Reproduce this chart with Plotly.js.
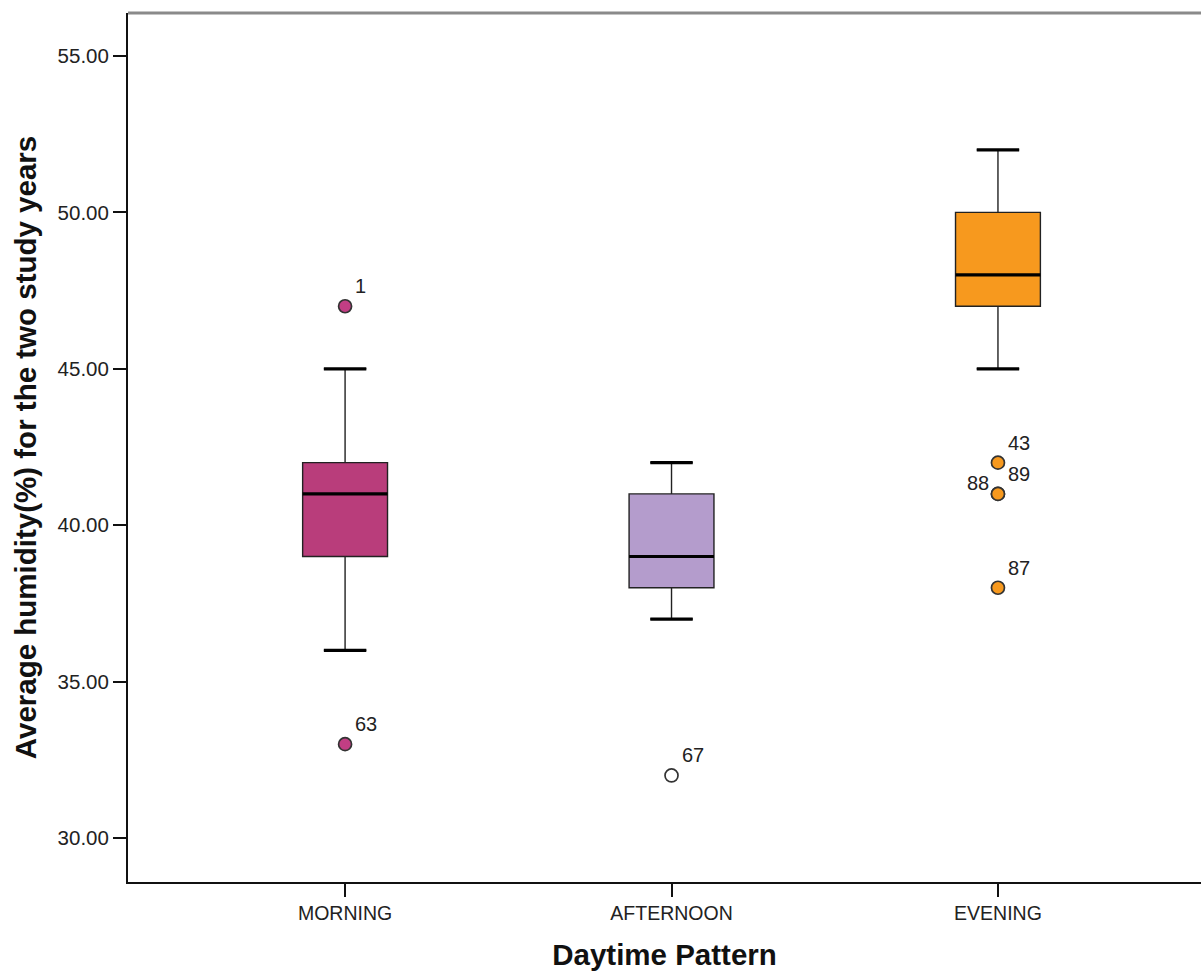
<!DOCTYPE html>
<html>
<head>
<meta charset="utf-8">
<script src="https://cdn.plot.ly/plotly-3.0.1.min.js"></script>
<style>html,body{margin:0;padding:0;background:#fff;}#chart{width:1201px;height:971px;}</style>
</head>
<body>
<div id="chart"></div>
<script>
// ---- data ----
const categories = ["MORNING", "AFTERNOON", "EVENING"];
const lowerWhisker = [36, 37, 45];
const q1Values = [39, 38, 47];
const medianValues = [41, 39, 48];
const q3Values = [42, 41, 50];
const upperWhisker = [45, 42, 52];
const boxColors = ["#b93d7b", "#b49ccc", "#f7991e"];
const outlierColors = ["#c23e84", "#ffffff", "#f7991e"];

// outliers: category index, value, case label
const outlierCat = [0, 0, 1, 2, 2, 2, 2];
const outlierVal = [47, 33, 32, 42, 41, 41, 38];
const outlierLabel = ["1", "63", "67", "43", "89", "88", "87"];
const outlierLabelSide = ["right", "right", "right", "right", "right", "left", "right"];

const boxWidth = 0.26;
const capWidth = 0.13;

const traces = [];
categories.forEach((c, i) => {
  traces.push({
    type: "box",
    x: [i],
    q1: [q1Values[i]],
    median: [medianValues[i]],
    q3: [q3Values[i]],
    lowerfence: [lowerWhisker[i]],
    upperfence: [upperWhisker[i]],
    width: boxWidth,
    whiskerwidth: 0.5,
    boxpoints: false,
    fillcolor: boxColors[i],
    line: { color: "#222", width: 1.4 },
    hoverinfo: "skip",
    showlegend: false
  });
  // median line
  traces.push({
    type: "scatter", mode: "lines",
    x: [i - boxWidth / 2, i + boxWidth / 2],
    y: [medianValues[i], medianValues[i]],
    line: { color: "#000", width: 3.2 },
    hoverinfo: "skip", showlegend: false
  });
  // whisker caps
  [lowerWhisker[i], upperWhisker[i]].forEach(v => {
    traces.push({
      type: "scatter", mode: "lines",
      x: [i - capWidth / 2, i + capWidth / 2],
      y: [v, v],
      line: { color: "#000", width: 3.2 },
      hoverinfo: "skip", showlegend: false
    });
  });
});

traces.push({
  type: "scatter", mode: "markers",
  x: outlierCat,
  y: outlierVal,
  marker: {
    size: 13,
    color: outlierCat.map(i => outlierColors[i]),
    line: { color: "#333", width: 1.7 }
  },
  hoverinfo: "skip", showlegend: false
});

const annotations = outlierLabel.map((t, k) => {
  const left = outlierLabelSide[k] === "left";
  return {
    x: outlierCat[k], y: outlierVal[k], xref: "x", yref: "y",
    text: t, showarrow: false,
    xanchor: left ? "right" : "left",
    yanchor: "middle",
    xshift: left ? -7 : 8,
    yshift: left ? 11 : 20,
    font: { family: "Liberation Sans, Arial, sans-serif", size: 20, color: "#222" }
  };
});

const layout = {
  width: 1201, height: 971,
  margin: { l: 128, r: 0, t: 13, b: 89 },
  paper_bgcolor: "#fff", plot_bgcolor: "#fff",
  showlegend: false,
  xaxis: {
    range: [-0.665, 2.622],
    tickvals: [0, 1, 2],
    ticktext: categories,
    showgrid: false, zeroline: false,
    showline: true, linecolor: "#111", linewidth: 2,
    ticks: "outside", ticklen: 13, tickwidth: 2, tickcolor: "#111",
    tickfont: { family: "Liberation Sans, Arial, sans-serif", size: 19.5, color: "#222" },
    title: { text: "Daytime Pattern", standoff: 26,
      font: { family: "Liberation Sans, Arial, sans-serif", size: 29.5, color: "#111", weight: "bold" } }
  },
  yaxis: {
    range: [28.593, 56.375],
    tickvals: [30, 35, 40, 45, 50, 55],
    ticktext: ["30.00", "35.00", "40.00", "45.00", "50.00", "55.00"],
    showgrid: false, zeroline: false,
    showline: true, linecolor: "#111", linewidth: 2,
    ticks: "outside", ticklen: 13, tickwidth: 2, tickcolor: "#111",
    tickfont: { family: "Liberation Sans, Arial, sans-serif", size: 20.5, color: "#222" },
    title: { text: "Average humidity(%) for the two study years", standoff: 12,
      font: { family: "Liberation Sans, Arial, sans-serif", size: 29.5, color: "#111", weight: "bold" } }
  },
  shapes: [{
    type: "line", xref: "paper", yref: "paper",
    x0: 0, x1: 1, y0: 1, y1: 1,
    line: { color: "#8a8a8a", width: 3 }
  }],
  annotations: annotations
};

Plotly.newPlot("chart", traces, layout, { displayModeBar: false, staticPlot: true });
</script>
</body>
</html>
